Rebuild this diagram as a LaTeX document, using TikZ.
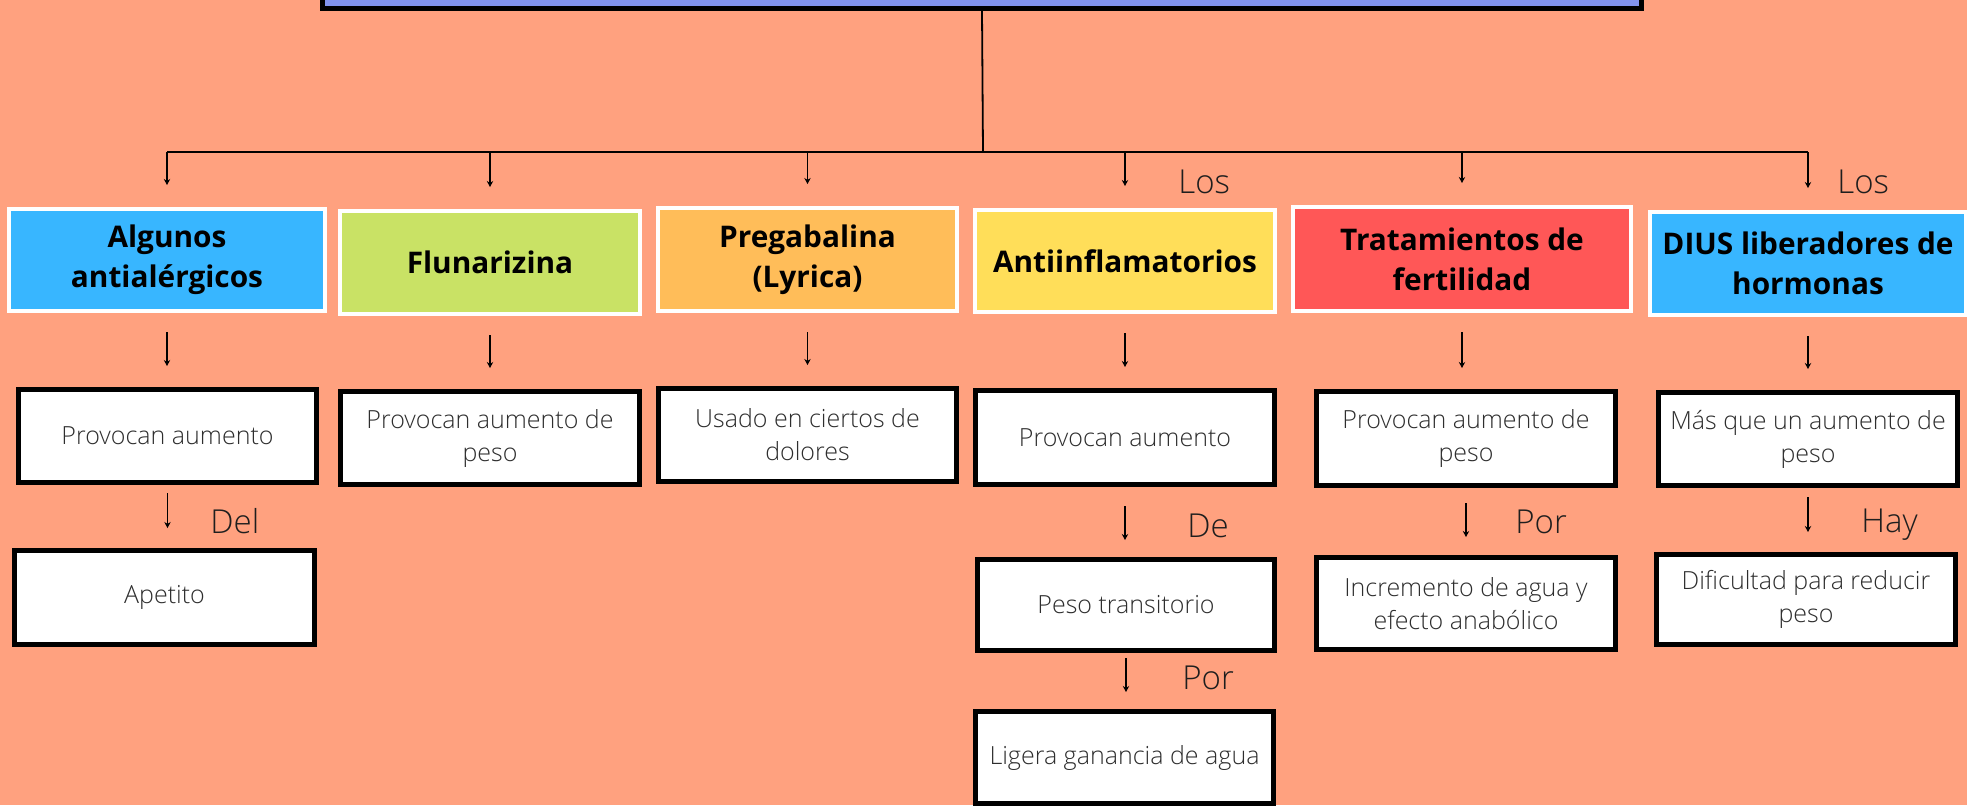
\documentclass[tikz,border=0pt]{standalone}
\usepackage{fontspec}
\setmainfont{Open Sans}
\newfontfamily\lightfont{Open Sans Light}
\usetikzlibrary{arrows.meta, positioning, calc}
\definecolor{bgSalmon}{HTML}{FFA17F}
\definecolor{topPeri}{HTML}{8193EE}
\definecolor{headBlue}{HTML}{38B6FF}
\definecolor{headGreen}{HTML}{C9E265}
\definecolor{headOrange}{HTML}{FFBD59}
\definecolor{headYellow}{HTML}{FFDE59}
\definecolor{headRed}{HTML}{FF5757}
\definecolor{inkGrey}{HTML}{2E2E2E}
\definecolor{wordGrey}{HTML}{1E1E1E}

\begin{document}
\begin{tikzpicture}[x=0.5pt, y=-0.5pt,
    headbox/.style 2 args={draw=white, line width=2.2pt, inner sep=0pt,
        minimum width=#1*0.5pt-2.2pt, minimum height=#2*0.5pt-2.2pt,
        align=center, font=\bfseries\fontsize{14.9}{20}\selectfont},
    leafbox/.style 2 args={draw=black, fill=white, line width=2.5pt, inner sep=0pt,
        minimum width=#1*0.5pt-2.5pt, minimum height=#2*0.5pt-2.5pt,
        align=center, text=inkGrey, font=\lightfont\fontsize{12.5}{16.5}\selectfont},
    wire/.style={line width=0.9pt},
    link/.style={wire, -{Stealth[length=3pt, width=3.2pt]}},
    drop/.style={link, shorten <=9.5pt, shorten >=10.5pt},
    joinword/.style={anchor=base west, inner sep=0pt, text=wordGrey, font=\lightfont\fontsize{16.5}{20}\selectfont}]
        \useasboundingbox (0,0) rectangle (1967,805);
        \clip (0,0) rectangle (1967,805);
        \fill[bgSalmon] (0,0) rectangle (1967,805);

        % Title box (cut at the top)
        \node[draw=black, fill=topPeri, line width=2.6pt, minimum width=659.4pt, minimum height=58.4pt] (title) at (982,-50) {};
        \coordinate (hub) at (983,152);

        % Row 1
        \node[headbox={320}{106}, fill=headBlue] (antialerg) at (167,260) {Algunos\\antialérgicos};
        \node[headbox={304}{107}, fill=headGreen] (flunar) at (490,262.5) {Flunarizina};
        \node[headbox={303}{107}, fill=headOrange] (pregab) at (807.5,259.5) {Pregabalina\\(Lyrica)};
        \node[headbox={304}{106}, fill=headYellow] (antiinf) at (1125,261) {Antiinflamatorios};
        \node[headbox={342}{108}, fill=headRed] (fertil) at (1462,259) {Tratamientos de\\fertilidad};
        \node[headbox={320}{107}, fill=headBlue] (dius) at (1808,263.5) {DIUS liberadores de\\hormonas};

        % Row 2
        \node[leafbox={303}{98}] (aumA) at (167.5,436) {Provocan aumento};
        \node[leafbox={304}{98}] (aumB) at (490,438) {Provocan aumento de\\peso};
        \node[leafbox={303}{98}] (dolor) at (807.5,435) {Usado en ciertos de\\dolores};
        \node[leafbox={304}{99}] (aumC) at (1125,437.5) {Provocan aumento};
        \node[leafbox={304}{99}] (aumD) at (1466,438.5) {Provocan aumento de\\peso};
        \node[leafbox={304}{98}] (masque) at (1808,439) {Más que un aumento de\\peso};

        % Row 3 and 4
        \node[leafbox={305}{99}] (apetito) at (164.5,597.5) {Apetito};
        \node[leafbox={302}{96}] (transit) at (1126,605) {Peso transitorio};
        \node[leafbox={304}{97}] (agua) at (1466,603.5) {Incremento de agua y\\efecto anabólico};
        \node[leafbox={304}{95}] (dificil) at (1806,599.5) {Dificultad para reducir\\peso};
        \node[leafbox={303}{97}] (ligera) at (1124.5,757.5) {Ligera ganancia de agua};

        % Connectors
        \draw[wire] (title.south) -- (hub);
        \draw[wire] (hub -| antialerg) -- (hub -| dius);
        \foreach \h in {antialerg, flunar, pregab, antiinf, fertil, dius}
            \draw[link, shorten >=11pt] (hub -| \h) -- (\h.north);
        \foreach \h/\l in {antialerg/aumA, flunar/aumB, pregab/dolor, antiinf/aumC, fertil/aumD, dius/masque}
            \draw[drop] (\h.south) -- (\h.south |- \l.north);
        \draw[link, shorten <=4pt, shorten >=10pt] (aumA.south) -- (aumA.south |- apetito.north);
        \draw[link, shorten <=9.5pt, shorten >=8.5pt] (aumC.south) -- (aumC.south |- transit.north);
        \draw[link, shorten <=7.5pt, shorten >=9pt] (aumD.south) -- (aumD.south |- agua.north);
        \draw[link, shorten <=4.5pt, shorten >=10pt] (masque.south) -- (masque.south |- dificil.north);
        \draw[link, shorten <=2.5pt, shorten >=8.5pt] (transit.south) -- (transit.south |- ligera.north);

        % Linking words
        \node[joinword] (los1) at (1178,193) {Los};
        \node[joinword] (los2) at (1837,193) {Los};
        \node[joinword] (del) at (210,533) {Del};
        \node[joinword] (de) at (1187,537) {De};
        \node[joinword] (por1) at (1515,533) {Por};
        \node[joinword] (hay) at (1861,532) {Hay};
        \node[joinword] (por2) at (1182,689) {Por};
    \end{tikzpicture}
\end{document}
